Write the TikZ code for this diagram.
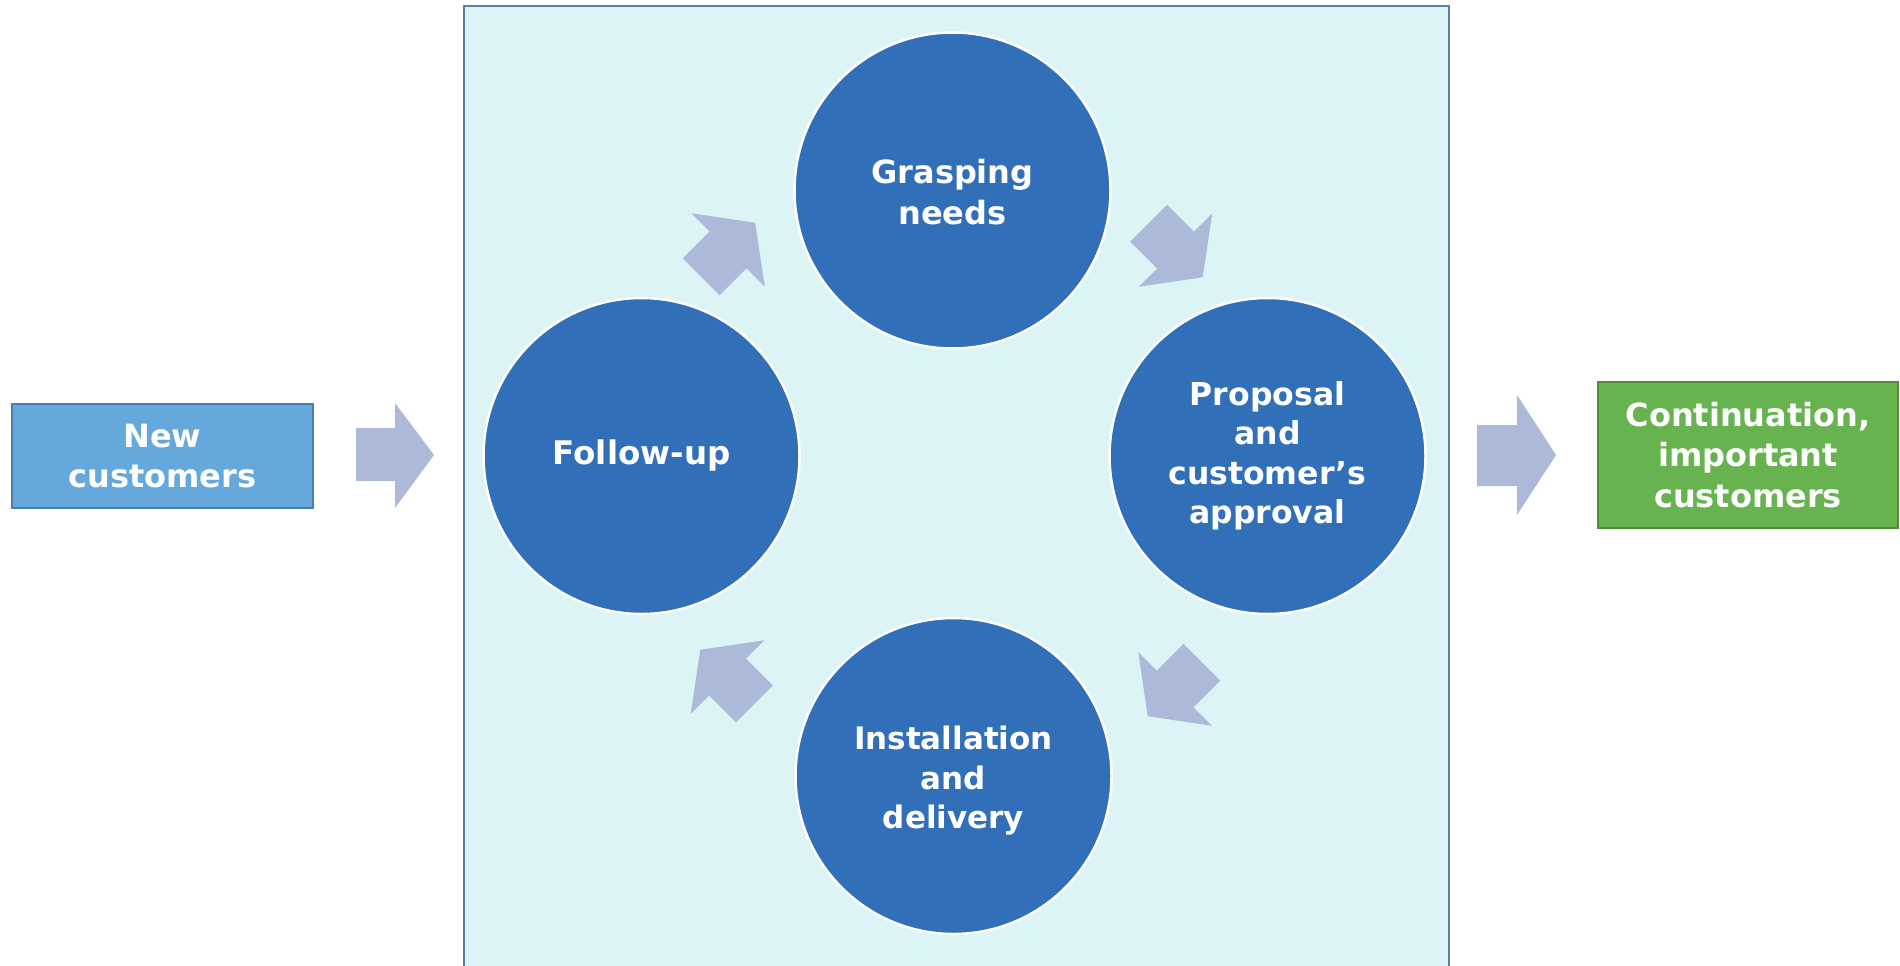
\documentclass[tikz,border=0pt]{standalone}
\usepackage{fontspec}
\setmainfont{DejaVu Sans}
\definecolor{panelfill}{HTML}{DDF4F7}
\definecolor{paneledge}{HTML}{5B7FA7}
\definecolor{circfill}{HTML}{3170B8}
\definecolor{arrowfill}{HTML}{ADB9D8}
\definecolor{newfill}{HTML}{65A9DC}
\definecolor{newedge}{HTML}{4A7DB0}
\definecolor{contfill}{HTML}{66B34F}
\definecolor{contedge}{HTML}{4E8B3A}
\begin{document}
\begin{tikzpicture}[x=1pt,y=-1pt,
 stage/.style={circle, minimum size=316pt, inner sep=0pt, fill=circfill, draw=white, line width=2.5pt, text=white, align=center, font=\fontsize{31.5}{39.5}\selectfont\bfseries},
 endbox/.style={rectangle, inner sep=0pt, line width=1.5pt, text=white, align=center, font=\fontsize{32}{40.5}\selectfont\bfseries},
 blockarrow/.pic={\fill[arrowfill] (-38,26) -- (0,26) -- (0,52) -- (38.5,0) -- (0,-52) -- (0,-26) -- (-38,-26) -- cycle;}
]
\useasboundingbox (0,0) rectangle (1900,966);
\fill[white] (0,0) rectangle (1900,966);
% panel
\draw[fill=panelfill, draw=paneledge, line width=2pt] (464,6) rectangle (1449,990);
% circles
\node[stage] (grasp) at (952.5,190.5) {};
\node[text=white, align=center, font=\fontsize{32}{41}\selectfont\bfseries] (grasptext) at (952.5,192.5) {Grasping\\needs};
\node[stage, font=\fontsize{32.5}{39.5}\selectfont\bfseries] (follow) at (641.5,456) {Follow-up};
\node[stage] (prop) at (1267.5,456) {Proposal\\and\\customer’s\\approval};
\node[stage] (inst) at (953.5,776) {};
\node[text=white, align=center, font=\fontsize{31}{39.5}\selectfont\bfseries] (insttext) at (953.5,781) {Installation\\and\\delivery};
% cycle arrows
\pic[rotate=45] at (728,250) {blockarrow};
\pic[rotate=-45] at (1175.5,250) {blockarrow};
\pic[rotate=-135] at (1175,689) {blockarrow};
\pic[rotate=135] at (727.5,677) {blockarrow};
% end boxes
\node[endbox, fill=newfill, draw=newedge, minimum width=301pt, minimum height=104pt] (newc) at (162.5,456) {New\\customers};
\node[endbox, fill=contfill, draw=contedge, minimum width=300pt, minimum height=146pt] (cont) at (1748,455) {Continuation,\\important\\customers};
% in/out arrows
\fill[arrowfill] (356,428) -- (395,428) -- (395,403) -- (434,455) -- (395,508) -- (395,481) -- (356,481) -- cycle;
\fill[arrowfill] (1477,425) -- (1517,425) -- (1517,395) -- (1556,455) -- (1517,515) -- (1517,486) -- (1477,486) -- cycle;
\end{tikzpicture}
\end{document}
